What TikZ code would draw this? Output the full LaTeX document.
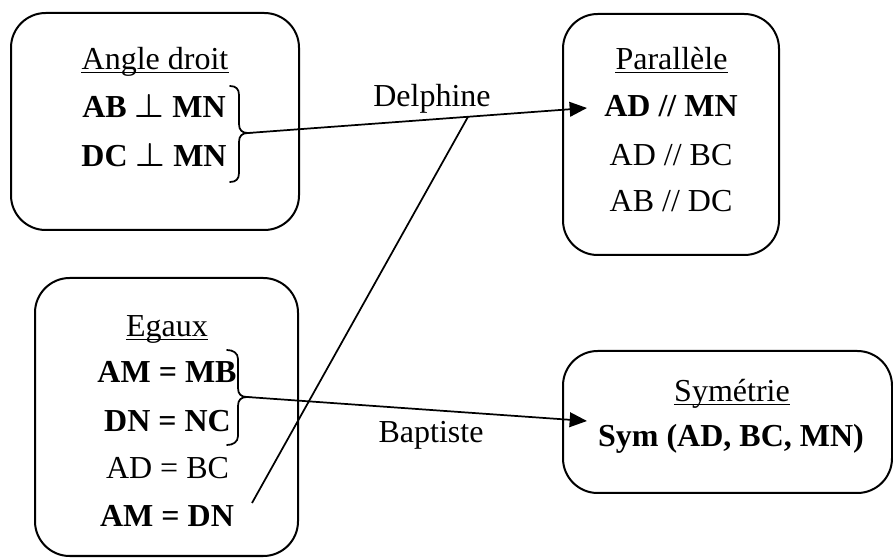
\documentclass[tikz,border=0pt]{standalone}
\usepackage{fontspec}
\setmainfont{Liberation Serif}
\usetikzlibrary{arrows.meta,calc}
\begin{document}
\begin{tikzpicture}[x=0.75pt,y=-0.75pt,
  box/.style={draw, line width=1.5pt, rounded corners=26pt, inner sep=0pt},
  txt/.style={anchor=base, inner sep=0pt, font=\fontsize{24}{28}\selectfont},
  btxt/.style={anchor=base, inner sep=0pt, font=\fontsize{24}{28}\selectfont\bfseries},
  ul/.style={line width=1.1pt},
  conn/.style={line width=1.3pt},
  arr/.style={conn, -{Triangle[length=13pt,width=11pt]}},
  bracestyle/.style={line width=1.3pt, line cap=round}]
\useasboundingbox (0,0) rectangle (893,559);

% boxes
\node[box, minimum width=216pt, minimum height=162.75pt] (b1) at (155,121.5) {};
\node[box, minimum width=197.25pt, minimum height=208.5pt] (b2) at (166.5,417) {};
\node[box, minimum width=162pt, minimum height=180.75pt] (b3) at (671,134.5) {};
\node[box, minimum width=246.75pt, minimum height=106.5pt] (b4) at (727.5,422) {};

% box 1 texts
\node[txt] (h1) at (155,70) {Angle droit};
\draw[ul] ([yshift=-2pt]h1.base west) -- ([yshift=-2pt]h1.base east);
\node[btxt] (a1) at (154,118) {AB {\boldmath$\perp$} MN};
\node[btxt] (a2) at (154,167) {DC {\boldmath$\perp$} MN};

% box 2 texts
\node[txt] (h2) at (167,337) {Egaux};
\draw[ul] ([yshift=-2pt]h2.base west) -- ([yshift=-2pt]h2.base east);
\node[btxt] (e1) at (167,383) {AM = MB};
\node[btxt] (e2) at (167.5,432) {DN = NC};
\node[txt] (e3) at (167.5,479) {AD = BC};
\node[btxt] (e4) at (167,527) {AM = DN};

% box 3 texts
\node[txt] (h3) at (671.5,70) {Parallèle};
\draw[ul] ([yshift=-2pt]h3.base west) -- ([yshift=-2pt]h3.base east);
\node[btxt] (p1) at (671,117) {AD // MN};
\node[txt] (p2) at (671,166) {AD // BC};
\node[txt] (p3) at (671,212) {AB // DC};

% box 4 texts
\node[txt] (h4) at (732,402) {Symétrie};
\draw[ul] ([yshift=-2pt]h4.base west) -- ([yshift=-2pt]h4.base east);
\node[btxt] (s1) at (731,447) {Sym (AD, BC, MN)};

% braces
\draw[bracestyle] (230,86) .. controls (236,86) and (239,89) .. (239,95) -- (239,124)
  .. controls (239,130) and (242,133) .. (248,133)
  .. controls (242,133) and (239,136) .. (239,142) -- (239,173)
  .. controls (239,179) and (236,182) .. (230,182);
\coordinate (br1) at (248,133);
\draw[bracestyle] (227,350) .. controls (233,350) and (238,353) .. (238,359) -- (238,388)
  .. controls (238,394) and (241,397) .. (247,397)
  .. controls (241,397) and (238,400) .. (238,406) -- (238,436)
  .. controls (238,442) and (233,445) .. (227,445);
\coordinate (br2) at (247,397);

% connectors
\coordinate (tipA) at (587,108);
\coordinate (tipB) at (587,421);
\draw[arr] (br1) -- (tipA);
\draw[arr] (br2) -- (tipB);
\coordinate (dtop) at ($(br1)!0.649!(tipA)$);
\coordinate (dbot) at (252,503);
\draw[conn] (dbot) -- (dtop);

% labels
\node[txt] (lD) at (432,107) {Delphine};
\node[txt] (lB) at (431,443) {Baptiste};
\end{tikzpicture}
\end{document}
